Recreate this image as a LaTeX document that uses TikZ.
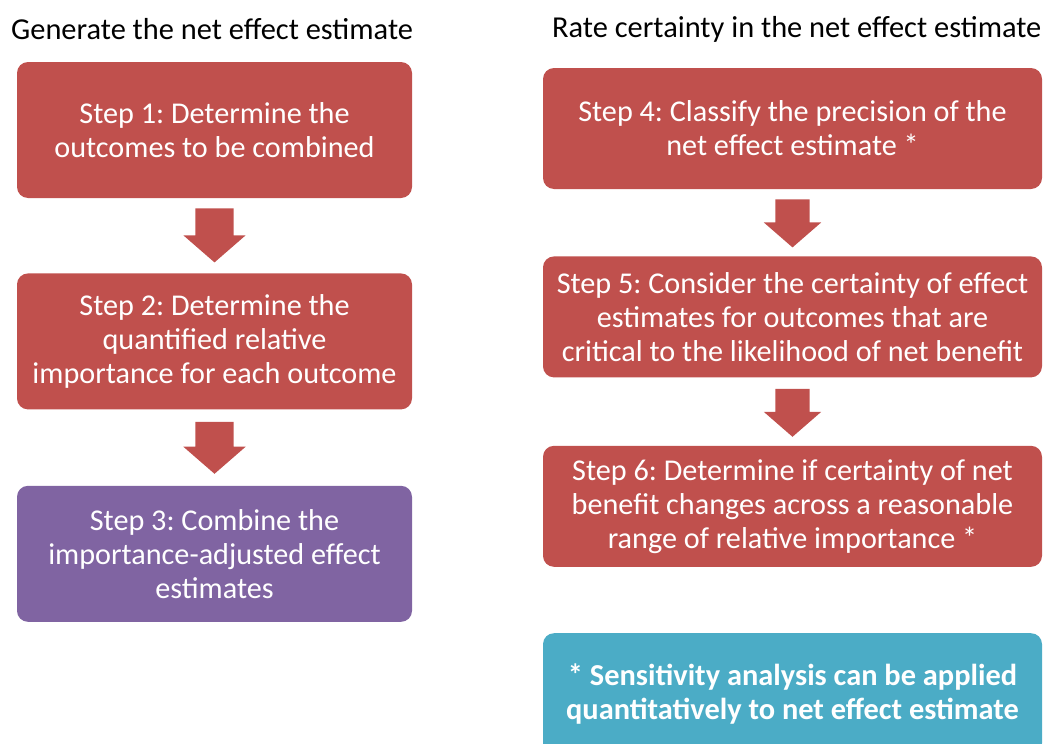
\documentclass[tikz,border=0pt]{standalone}
\usepackage{fontspec}
\setmainfont{Carlito}
\usepackage{tikz}
\usetikzlibrary{positioning, calc, shapes.arrows}

\definecolor{stepred}{HTML}{C0504D}
\definecolor{steppurple}{HTML}{8064A2}
\definecolor{stepteal}{HTML}{4BACC6}

\frenchspacing
\begin{document}
\begin{tikzpicture}[
        x=1pt, y=-1pt,
        stepbox/.style={rectangle, rounded corners=11pt, fill=stepred, text=white, align=center, inner sep=0pt, font=\fontsize{30.2}{34}\selectfont},
        leftbox/.style={stepbox, minimum width=395pt, minimum height=136pt},
        rightbox/.style={stepbox, minimum width=499pt, minimum height=121pt},
        heading/.style={anchor=base west, inner sep=0pt, font=\fontsize{30.4}{34}\selectfont},
        blockarrow/.style={single arrow, rotate=-90, fill=stepred, inner xsep=0pt, single arrow tip angle=98}
    ]
        \useasboundingbox (0,0) rectangle (1045,744);

        \node[heading] (lefttitle) at (11,39) {Generate the net effect estimate};
        \node[heading] (righttitle) at (552,37) {Rate certainty in the net effect estimate};

        \node[leftbox] (step1) at (214.5,130) {Step 1: Determine the\\outcomes to be combined};
        \node[leftbox, below=75pt of step1] (step2) {Step 2: Determine the\\quantified relative\\importance for each outcome};
        \node[leftbox, below=76pt of step2, fill=steppurple] (step3) {Step 3: Combine the\\importance-adjusted effect\\estimates};

        \node[rightbox] (step4) at (792.5,128.5) {Step 4: Classify the precision of the\\net effect estimate *};
        \node[rightbox, below=67pt of step4] (step5) {Step 5: Consider the certainty of effect\\estimates for outcomes that are\\critical to the likelihood of net benefit};
        \node[rightbox, below=68pt of step5] (step6) {Step 6: Determine if certainty of net\\benefit changes across a reasonable\\range of relative importance *};
        \node[rightbox, below=66pt of step6, fill=stepteal, font=\fontsize{30.4}{34}\selectfont\bfseries] (note) {* Sensitivity analysis can be applied\\quantitatively to net effect estimate};

        \node[blockarrow, below=10pt of step1, anchor=tail, inner ysep=19pt, minimum height=54pt, minimum width=62pt, single arrow head extend=12pt] (arrow12) {};
        \node[blockarrow, below=12pt of step2, anchor=tail, inner ysep=19pt, minimum height=52pt, minimum width=62pt, single arrow head extend=12pt] (arrow23) {};
        \node[blockarrow, below=10pt of step4, anchor=tail, inner ysep=17pt, minimum height=48pt, minimum width=57pt, single arrow head extend=11.5pt] (arrow45) {};
        \node[blockarrow, below=11pt of step5, anchor=tail, inner ysep=17pt, minimum height=48pt, minimum width=57pt, single arrow head extend=11.5pt] (arrow56) {};
    \end{tikzpicture}
\end{document}
